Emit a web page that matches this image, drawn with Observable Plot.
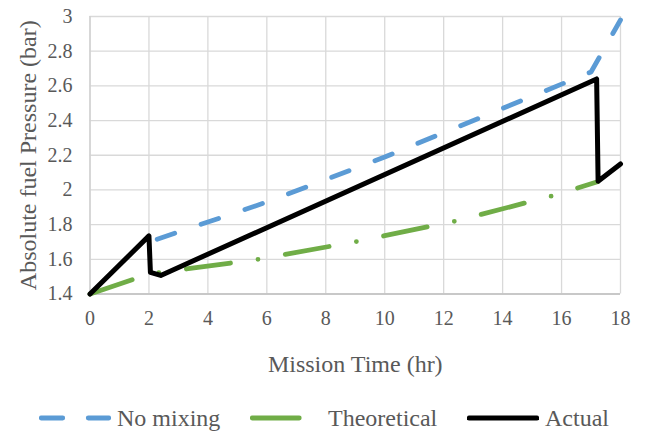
<!DOCTYPE html>
<html><head><meta charset="utf-8">
<script src="https://cdn.jsdelivr.net/npm/d3@7"></script>
<script src="https://cdn.jsdelivr.net/npm/@observablehq/plot@0.6"></script>
<style>
html,body{margin:0;padding:0;background:#fff;}
#wrap{position:relative;width:645px;height:434px;font-family:"Liberation Serif","Times New Roman",serif;color:#595959;overflow:hidden;}
#wrap svg.plot{position:absolute;left:0;top:0;}
.leg{position:absolute;top:403px;height:30px;display:flex;align-items:center;font-size:24px;white-space:nowrap;}
.leg svg{display:block;}
</style></head><body><div id="wrap"></div>
<script>
// ---- data ----
const xTicks = [0, 2, 4, 6, 8, 10, 12, 14, 16, 18];
const yTicks = [1.4, 1.6, 1.8, 2, 2.2, 2.4, 2.6, 2.8, 3];
const xLabel = "Mission Time (hr)";
const yLabel = "Absolute fuel Pressure (bar)";

const noMixingX = [2, 6, 10, 14, 17, 18];
const noMixingY = [1.70, 1.93, 2.19, 2.47, 2.68, 2.98];

const theoreticalX = [0, 2, 5.7, 9.06, 12.39, 15.69, 17.22];
const theoreticalY = [1.40, 1.515, 1.60, 1.703, 1.82, 1.966, 2.047];

const actualX = [0, 2, 2.05, 2.4, 17.19, 17.24, 18];
const actualY = [1.40, 1.735, 1.525, 1.507, 2.64, 2.05, 2.15];

const seriesNames = ["No mixing", "Theoretical", "Actual"];
const seriesColors = ["#5b9bd5", "#70ad47", "#000000"];
const seriesWidth = [4.8, 4.8, 5];
const seriesDash = ["18.5 27.8", "44.5 27.75 0 27.75", null];
const seriesDashOffset = [37.6, 0, 0];
const legendDash = ["21.5 25.5", "47 30 0 30", null];

const toRows = (xs, ys) => xs.map((x, i) => ({x, y: ys[i]}));
const series = [toRows(noMixingX, noMixingY), toRows(theoreticalX, theoreticalY), toRows(actualX, actualY)];

const W = 645, H = 434;
const chart = Plot.plot({
  width: W, height: H,
  marginLeft: 89.5, marginRight: 25, marginTop: 16, marginBottom: 140.5,
  style: {fontFamily: '"Liberation Serif","Times New Roman",serif', fontSize: "20px", color: "#595959", background: "transparent", overflow: "visible"},
  x: {domain: [0, 18]},
  y: {domain: [1.4, 3]},
  marks: [
    Plot.gridX(xTicks, {stroke: "#d9d9d9", strokeOpacity: 1, strokeWidth: 1.3}),
    Plot.gridY(yTicks, {stroke: "#d9d9d9", strokeOpacity: 1, strokeWidth: 1.3}),
    Plot.ruleY([1.4], {stroke: "#bfbfbf", strokeWidth: 1.6}),
    Plot.ruleX([0], {stroke: "#d0d0d0", strokeWidth: 1.3}),
    Plot.axisX(xTicks, {tickSize: 0, tickPadding: 17, tickFormat: d => String(d),
      label: xLabel, labelAnchor: "center", labelArrow: "none", labelOffset: 78}),
    Plot.axisY(yTicks, {tickSize: 0, tickPadding: 17.5, tickFormat: d => String(d),
      label: yLabel, labelAnchor: "center", labelArrow: "none", labelOffset: 71}),
    ...series.map((rows, i) => Plot.line(rows, {x: "x", y: "y", stroke: seriesColors[i], strokeWidth: seriesWidth[i],
      strokeDasharray: seriesDash[i], strokeDashoffset: seriesDashOffset[i], strokeLinecap: "round", strokeLinejoin: "round"}))
  ]
});
chart.classList.add("plot");
document.getElementById("wrap").appendChild(chart);
d3.select(chart).selectAll('g[aria-label="x-axis label"], g[aria-label="y-axis label"]').attr("font-size", "24px");

// ---- legend ----
const legendSampleLeft = [39, 250, 467];
const wrap = d3.select("#wrap");
seriesNames.forEach((name, i) => {
  const item = wrap.append("div").attr("class", "leg").style("left", legendSampleLeft[i] + "px");
  const s = item.append("svg").attr("width", 72).attr("height", 10);
  s.append("line").attr("x1", 2.25).attr("x2", 69.75).attr("y1", 5).attr("y2", 5)
    .attr("stroke", seriesColors[i]).attr("stroke-width", seriesWidth[i]).attr("stroke-linecap", "round")
    .attr("stroke-dasharray", legendDash[i]);
  item.append("span").style("margin-left", "6px").text(name);
});
</script>
</body></html>
